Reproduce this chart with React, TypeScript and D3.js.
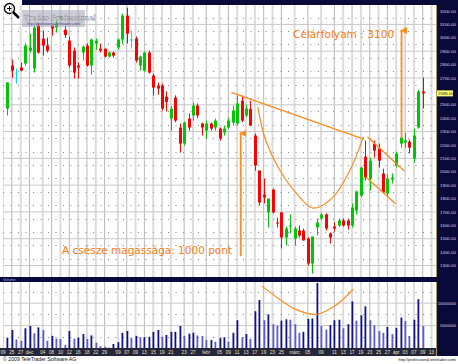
import React from "react";
import * as d3 from "d3";

// ---- DATA (prices in points, volume in millions of shares) ----
const opens = [2472,2793,2740,2778,2808,2904,2770,3091,2994,2942,3091,3076,3143,3060,2979,2904,2793,2890,2942,2793,2957,2919,2919,2860,2890,2927,2987,3166,2987,2994,2793,2755,2890,2718,2643,2643,2560,2397,2554,2330,2210,2397,2420,2494,2360,2307,2360,2330,2322,2292,2330,2367,2360,2530,2420,2470,2270,2009,1830,1696,1867,1621,1696,1509,1595,1501,1561,1561,1501,1315,1584,1651,1681,1539,1591,1598,1636,1636,1598,1710,1822,2113,1949,2210,2173,1987,1837,1942,2046,2210,2218,2225,2098,2330,2599];
const highs = [2670,2837,2770,2815,2957,3031,3091,3113,3054,3001,3091,3128,3165,3090,3009,2927,2815,2942,2957,2994,2994,2957,2919,2897,2897,2994,3181,3225,3054,3009,2867,2897,2904,2733,2665,2658,2600,2490,2570,2360,2375,2434,2516,2510,2367,2382,2367,2397,2330,2345,2404,2494,2569,2569,2500,2530,2285,2009,1949,1800,1875,1658,1700,1591,1681,1590,1598,1575,1510,1516,1651,1690,1690,1546,1621,1651,1650,1651,1763,1860,2038,2233,2106,2233,2210,2023,1980,1987,2150,2292,2292,2240,2322,2610,2703];
const lows = [2420,2703,2658,2748,2793,2890,2740,2882,2867,2890,3016,3039,3135,3000,2778,2696,2696,2830,2785,2725,2912,2890,2852,2852,2852,2912,2957,2957,2919,2815,2755,2748,2733,2569,2576,2457,2450,2307,2370,2143,2195,2307,2382,2400,2270,2248,2307,2307,2233,2270,2322,2345,2345,2370,2410,2340,2009,1748,1763,1584,1688,1584,1427,1449,1539,1449,1509,1487,1300,1240,1524,1640,1561,1464,1554,1590,1590,1568,1584,1680,1808,1934,1860,2106,2031,1837,1815,1912,2031,2180,2180,2136,2069,2322,2472];
const closes = [2666,2755,2740,2755,2942,2927,3076,2890,2942,2904,3069,3106,3158,3020,2793,2740,2778,2934,2793,2987,2979,2904,2860,2890,2867,2987,3166,3031,2987,2830,2860,2890,2740,2628,2621,2472,2520,2470,2382,2210,2367,2330,2494,2420,2330,2360,2322,2382,2248,2322,2382,2457,2510,2382,2472,2345,2046,1770,1808,1800,1696,1614,1509,1576,1600,1576,1524,1487,1315,1516,1621,1680,1576,1509,1576,1636,1598,1598,1733,1852,2031,1957,2083,2158,2083,1845,1949,1957,2136,2255,2233,2180,2270,2599,2585];
const volumes = [2.3,4.0,1.9,1.6,4.4,4.9,3.3,4.6,4.0,1.6,2.7,2.1,2.0,0.7,3.8,2.1,2.3,3.1,2.0,2.8,1.2,0.4,0.3,0.1,0.9,1.3,3.4,3.8,2.2,2.7,2.4,2.4,2.5,3.6,4.0,2.5,2.9,3.6,3.6,4.9,2.7,3.2,3.4,2.8,2.7,1.8,1.8,1.4,2.2,2.4,1.4,3.4,6.2,2.4,3.1,2.0,8.2,10.7,6.2,7.5,5.3,5.0,6.1,6.4,6.3,5.3,3.4,3.6,6.5,6.6,14.5,4.9,4.1,5.1,6.2,6.3,4.4,5.3,10.4,6.1,7.3,9.3,6.2,5.1,3.8,3.4,4.7,3.1,4.5,6.8,6.0,2.7,6.3,10.9,4.9];

const priceTicks = [1300,1400,1500,1600,1700,1800,1900,2000,2100,2200,2300,2400,2500,2600,2700,2800,2900,3000,3100,3200];
const volumeTicks = [5000000, 10000000];
const tickLabels = ["09","25","27","dec","04","08","10","12","16","18","22","29","'09","07","09","13","15","19","21","23","27","febr","05","09","11","13","17","19","23","25","márc","05","09","11","13","17","19","23","25","27","ápr","03","07","09","13"];
const tickSlots = [-1,1,3,5,8,10,12,14,16,18,20,22,25,27,29,31,33,35,37,40,42,45,48,50,52,54,56,58,60,62,65,68,71,74,76,78,80,82,84,86,88,90,92,94,96];

// annotation geometry in data units (slot index, price)
const resistSlots = [50.8, 80.5];
const resistPrices = [2590, 2245];
const cupSlots = [56.7, 58.3, 61.7, 65.5, 69.2, 73.6, 77.5, 80.5];
const cupPrices = [2480, 2250, 2009, 1835, 1728, 1807, 2009, 2255];
const flagUpperSlots = [81.6, 89.7];
const flagUpperPrices = [2257, 2009];
const flagLowerSlots = [81.2, 87.7];
const flagLowerPrices = [1959, 1765];
const cupHeightSlot = 52.8;
const cupHeightPrices = [1375, 2287];
const targetSlot = 89.2;
const targetPrices = [2255, 3054];
const volCupSlots = [57.6, 62.4, 65.5, 69.9, 73.8, 76, 78.3];
const volCupValues = [13.8, 10.3, 8.5, 7.5, 9.2, 10.9, 13.1];

const W = 458, H = 364;
const X0 = 3, X1 = 436;
const MAIN_TOP = 5, MAIN_BOTTOM = 277;
const VOL_TOP = 282, VOL_BOTTOM = 348;
const ORANGE = "#ff8a1e";
const NAVY = "#0a0a3a";

export default function App() {
  const x = d3.scaleLinear().domain([-1, 97]).range([X0, X1]);
  const y = d3.scaleLinear().domain([1300, 3200]).range([265.5, 11]);
  const yv = d3.scaleLinear().domain([0, 14.5e6]).range([VOL_BOTTOM, 283]);

  const candles = opens.map((o, i) => ({ i, o, h: highs[i], l: lows[i], c: closes[i], v: volumes[i] * 1e6 }));

  const priceLine = d3.line<[number, number]>().x(d => x(d[0])).y(d => y(d[1]));
  const cupLine = d3.line<[number, number]>().x(d => x(d[0])).y(d => y(d[1])).curve(d3.curveCatmullRom.alpha(0.5));
  const volCupLine = d3.line<[number, number]>().x(d => x(d[0])).y(d => yv(d[1] * 1e6)).curve(d3.curveCatmullRom.alpha(0.5));

  const zip = (a: number[], b: number[]) => a.map((v, i) => [v, b[i]] as [number, number]);

  const fmt = d3.format(".2f");
  const gridMajor = d3.range(1300, 3201, 200);
  const gridDots = d3.range(1350, 3200, 100);
  const volDots = [2.5e6, 7.5e6, 12.5e6];

  const last = candles[candles.length - 1];
  const lastY = y(last.c);

  return (
    <svg width={W} height={H} style={{ position: "absolute", left: 0, top: 0, display: "block", background: "#fff" }}
      fontFamily="'Liberation Sans', Arial, sans-serif">
      <defs>
        <marker id="arrowO" viewBox="0 0 10 10" refX="5" refY="2" markerWidth="4" markerHeight="4" orient="auto-start-reverse">
          <path d="M0,10 L5,0 L10,10 Z" fill={ORANGE} />
        </marker>
        <clipPath id="mainClip"><rect x={X0} y={MAIN_TOP} width={X1 - X0} height={MAIN_BOTTOM - MAIN_TOP} /></clipPath>
        <clipPath id="volClip"><rect x={X0} y={VOL_TOP} width={X1 - X0} height={VOL_BOTTOM - VOL_TOP} /></clipPath>
      </defs>

      {/* top navy bar */}
      <rect x={22} y={0} width={W - 22} height={5} fill={NAVY} />
      {/* magnifier icon */}
      <g>
        <line x1={13} y1={12} x2={19} y2={18} stroke="#000" strokeWidth={2.5} />
        <circle cx={9.5} cy={8.5} r={5} fill="#fff" stroke="#000" strokeWidth={1.3} />
        <line x1={7} y1={8.5} x2={12} y2={8.5} stroke="#000" strokeWidth={1} />
        <line x1={9.5} y1={6} x2={9.5} y2={11} stroke="#000" strokeWidth={1} />
      </g>

      {/* main grid */}
      <g clipPath="url(#mainClip)">
        {tickSlots.map((s, k) => (
          <line key={"vg" + k} x1={x(s)} x2={x(s)} y1={MAIN_TOP} y2={MAIN_BOTTOM}
            stroke={k % 2 === 0 ? "#dcdcdc" : "#b8b8b8"} strokeWidth={k % 2 === 0 ? 2 : 1} />
        ))}
        {gridMajor.map(p => (
          <line key={"hg" + p} x1={X0} x2={X1} y1={y(p)} y2={y(p)} stroke="#c8c8c8" strokeWidth={1} />
        ))}
        {gridDots.map(p => (
          <line key={"hd" + p} x1={X0} x2={X1} y1={Math.round(y(p)) + 0.5} y2={Math.round(y(p)) + 0.5} stroke="#8a8a8a"
            strokeWidth={1} strokeDasharray="1,6.5" />
        ))}
      </g>

      {/* candles */}
      <g clipPath="url(#mainClip)">
        {candles.map(d => {
          const col = d.c > d.o ? "#00c800" : d.c < d.o ? "#ff0000" : "#00e0e8";
          const cx = Math.round(x(d.i)) + 0.5;
          const top = y(Math.max(d.o, d.c));
          const bot = y(Math.min(d.o, d.c));
          return (
            <g key={"c" + d.i}>
              <line x1={cx} x2={cx} y1={y(d.h)} y2={y(d.l)} stroke={col} strokeWidth={1} />
              <rect x={cx - 1.5} y={top} width={3} height={Math.max(1, bot - top)} fill={col} />
            </g>
          );
        })}
      </g>

      {/* logo */}
      <rect x={22} y={10} width={63} height={17} fill="#9a9aae" opacity={0.5} />
      <text x={24} y={19.5} fontFamily="'DejaVu Serif', serif" fontSize={7.2} fill="#f4f4f4" stroke="#6a6a7a" strokeWidth={0.25}>Trader Professional</text>
      <text x={27} y={25} fontSize={3.6} fill="#4a4aa0">http://professional.teletrader.com/</text>

      {/* annotations main */}
      <g fill="none" stroke={ORANGE} strokeLinecap="round">
        <path d={priceLine(zip(resistSlots, resistPrices)) || ""} strokeWidth={1.4} />
        <path d={cupLine(zip(cupSlots, cupPrices)) || ""} strokeWidth={1.2} />
        <path d={priceLine(zip(flagUpperSlots, flagUpperPrices)) || ""} strokeWidth={1.3} />
        <path d={priceLine(zip(flagLowerSlots, flagLowerPrices)) || ""} strokeWidth={1.3} />
        <line x1={x(cupHeightSlot)} x2={x(cupHeightSlot)} y1={y(cupHeightPrices[0])} y2={y(cupHeightPrices[1])}
          strokeWidth={1.8} markerEnd="url(#arrowO)" />
        <line x1={x(targetSlot)} x2={x(targetSlot)} y1={y(targetPrices[0])} y2={y(targetPrices[1])}
          strokeWidth={1.8} markerEnd="url(#arrowO)" />
      </g>
      <text x={293} y={37.5} fontFamily="'DejaVu Sans', sans-serif" fontSize={10.6} fill="#ff7a10">Célárfolyam : 3100</text>
      <text x={62} y={253.5} fontFamily="'DejaVu Sans', sans-serif" fontSize={10.5} fill="#ff7a10">A csésze magassága: 1000 pont</text>

      {/* right axis panel */}
      <rect x={X1} y={5} width={W - X1} height={VOL_BOTTOM + 8 - 5} fill={NAVY} />
      <line x1={X1 + 0.5} x2={X1 + 0.5} y1={5} y2={VOL_BOTTOM + 8} stroke="#a89a58" strokeWidth={1} />
      {priceTicks.filter(p => Math.abs(y(p) - lastY) > 5).map(p => (
        <text key={"pt" + p} x={440} y={y(p) + 1.6} fontSize={4.4} fill="#d4d4e4">{fmt(p)}</text>
      ))}
      <rect x={437} y={lastY - 3} width={16} height={6} fill="#ffff70" />
      <text x={438} y={lastY + 1.6} fontSize={4.4} fill="#202040">{fmt(last.c)}</text>

      {/* separator band */}
      <rect x={0} y={MAIN_BOTTOM} width={W} height={VOL_TOP - MAIN_BOTTOM} fill={NAVY} />
      <text x={3} y={281} fontSize={3.8} fill="#8fa8ff">Volume</text>

      {/* volume grid */}
      <g clipPath="url(#volClip)">
        {tickSlots.map((s, k) => (
          <line key={"vvg" + k} x1={x(s)} x2={x(s)} y1={VOL_TOP} y2={VOL_BOTTOM}
            stroke={k % 2 === 0 ? "#dcdcdc" : "#b8b8b8"} strokeWidth={k % 2 === 0 ? 2 : 1} />
        ))}
        {volumeTicks.map(v => (
          <line key={"vh" + v} x1={X0} x2={X1} y1={yv(v)} y2={yv(v)} stroke="#c8c8c8" strokeWidth={1} />
        ))}
        {volDots.map(v => (
          <line key={"vd" + v} x1={X0} x2={X1} y1={Math.round(yv(v)) + 0.5} y2={Math.round(yv(v)) + 0.5}
            stroke="#8a8a8a" strokeWidth={1} strokeDasharray="1,6.5" />
        ))}
        {candles.map((d, i) => {
          const up = i === 0 || d.v >= candles[i - 1].v;
          return (
            <rect key={"v" + i} x={Math.round(x(d.i)) - 0.5} y={yv(d.v)} width={1.8} height={VOL_BOTTOM - yv(d.v)}
              fill={up ? "#10108a" : "#5a5ad2"} />
          );
        })}
        <path d={volCupLine(zip(volCupSlots, volCupValues)) || ""} fill="none" stroke={ORANGE} strokeWidth={1.2} />
      </g>
      {volumeTicks.map(v => (
        <text key={"vt" + v} x={456} y={yv(v) + 1.6} fontSize={4.1} textAnchor="end" fill="#d4d4e4">{d3.format("d")(v)}</text>
      ))}

      {/* date axis band */}
      <rect x={0} y={VOL_BOTTOM} width={X1} height={8} fill="#26263a" />
      {tickLabels.map((t, k) => (
        <text key={"tl" + k} x={x(tickSlots[k])} y={VOL_BOTTOM + 5.8} fontSize={4.6} textAnchor="middle" fill="#e4e0c8">{t}</text>
      ))}

      {/* footer */}
      <text x={3} y={361} fontSize={5.2} fill="#111">© 2009 TeleTrader Software AG</text>
      <text x={456} y={361} fontSize={3.9} fill="#111" textAnchor="end">http://professional.teletrader.com/</text>
    </svg>
  );
}
